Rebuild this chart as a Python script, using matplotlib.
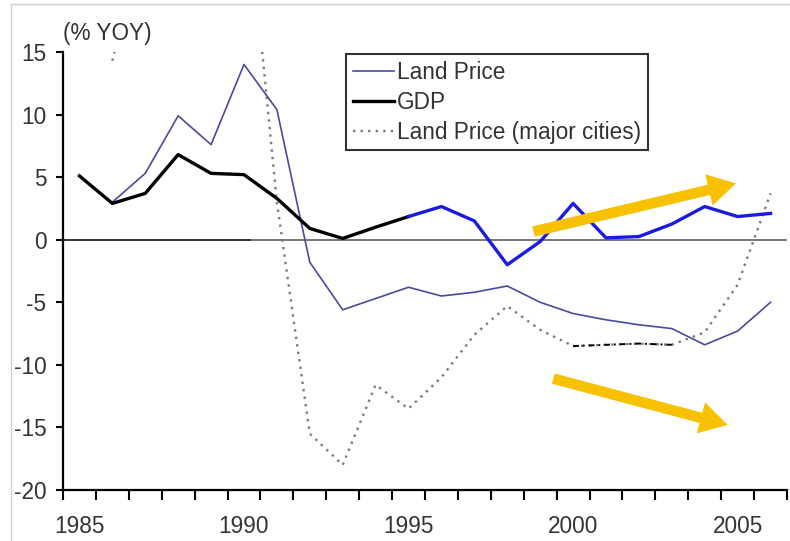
import numpy as np
import matplotlib
matplotlib.use('Agg')
import matplotlib.pyplot as plt
from matplotlib.lines import Line2D

plt.rcParams['font.family'] = ['Liberation Sans', 'DejaVu Sans']
plt.rcParams['axes.unicode_minus'] = False

# data (% YOY)
years = np.arange(1985, 2007)
land_price = [np.nan, 3.0, 5.3, 9.9, 7.6, 14.0, 10.4, -1.8, -5.6, -4.7, -3.8,
              -4.5, -4.2, -3.7, -5.0, -5.9, -6.4, -6.8, -7.1, -8.4, -7.3, -5.0]
gdp = [5.1, 2.9, 3.7, 6.8, 5.3, 5.2, 3.3, 0.9, 0.1, 1.0, 1.85,
       2.65, 1.5, -2.0, -0.15, 2.9, 0.15, 0.25, 1.25, 2.65, 1.85, 2.1]
land_major = [np.nan, 14.3, 25.0, 40.0, 32.0, 30.0, 3.0, -15.5, -18.0, -11.6, -13.5,
              -11.0, -7.6, -5.3, -7.2, -8.5, -8.4, -8.3, -8.4, -7.4, -3.6, 3.7]
labels = ['Land Price', 'GDP', 'Land Price (major cities)']

land_price = np.array(land_price)
gdp = np.array(gdp)
land_major = np.array(land_major)

fig = plt.figure(figsize=(7.9, 5.41), dpi=100)
ax = fig.add_axes([0.0797, 0.0943, 0.9165, 0.8096])

fs = 16.3
tc = '#333333'

# zero line
ax.hlines(0, 1984.5, 1990.2, color='#333333', lw=1.4, zorder=1)
ax.hlines(0, 1990.2, 2006.5, color='#777777', lw=1.4, zorder=1)

l_major, = ax.plot(years, land_major, color='#7a7a7a', lw=1.7,
                   linestyle=(0, (1, 2.2)), zorder=2)
sub = (years >= 2000) & (years <= 2003)
ax.plot(years[sub], land_major[sub], color='black', lw=1.4,
        linestyle=(0, (3, 2, 1, 2)), zorder=2)

l_land, = ax.plot(years, land_price, color='#4a4a9e', lw=1.2, zorder=3)

old = years <= 1995
new = years >= 1995
l_gdp, = ax.plot(years[old], gdp[old], color='black', lw=2.4, zorder=4)
ax.plot(years[new], gdp[new], color='#1a1ae0', lw=2.4, zorder=4)

# trend arrows
arrow = dict(arrowstyle='simple,head_length=1.0,head_width=1.15,tail_width=0.38',
             color='#F7C100', mutation_scale=20, shrinkA=0, shrinkB=0, lw=0)
ax.annotate('', xy=(2004.95, 4.5), xytext=(1998.8, 0.65), arrowprops=arrow, zorder=5)
ax.annotate('', xy=(2004.7, -14.8), xytext=(1999.4, -11.1), arrowprops=arrow, zorder=5)

ax.set_xlim(1984.5, 2006.5)
ax.set_ylim(-20, 15)
ax.set_yticks(np.arange(-20, 16, 5))
ax.set_xticks(np.arange(1984.5, 2007, 1))
ax.set_xticklabels([])
ax.set_xticks(np.arange(1985, 2006, 5), minor=True)
ax.set_xticklabels([str(y) for y in range(1985, 2006, 5)], minor=True)

ax.tick_params(axis='x', which='major', direction='out', length=7, width=1.5, color='black')
ax.tick_params(axis='x', which='minor', length=0, pad=18, labelsize=fs, labelcolor=tc)
ax.tick_params(axis='y', direction='out', length=5, width=1.5, pad=7,
               labelsize=fs, labelcolor=tc, color='black')

for s in ['top', 'right']:
    ax.spines[s].set_visible(False)
for s in ['left', 'bottom']:
    ax.spines[s].set_linewidth(1.6)
    ax.spines[s].set_color('black')

ax.text(0.0, 1.016, '(% YOY)', transform=ax.transAxes, fontsize=fs, color=tc,
        ha='left', va='bottom')

leg = ax.legend([l_land, l_gdp, l_major], labels, loc='upper left',
                bbox_to_anchor=(0.391, 0.995), borderaxespad=0, fontsize=fs,
                frameon=True, fancybox=False, handlelength=1.8, handletextpad=0.15,
                labelspacing=0.3, borderpad=0.3, labelcolor=tc)
leg.get_frame().set_edgecolor('black')
leg.get_frame().set_linewidth(1.5)

# faint border of the original image
fig.add_artist(Line2D([0.014, 1.0], [0.993, 0.993], color='#d0d0d0', lw=1))
fig.add_artist(Line2D([0.014, 0.014], [0.0, 0.993], color='#d0d0d0', lw=1))

fig.savefig('out.png', dpi=100)
